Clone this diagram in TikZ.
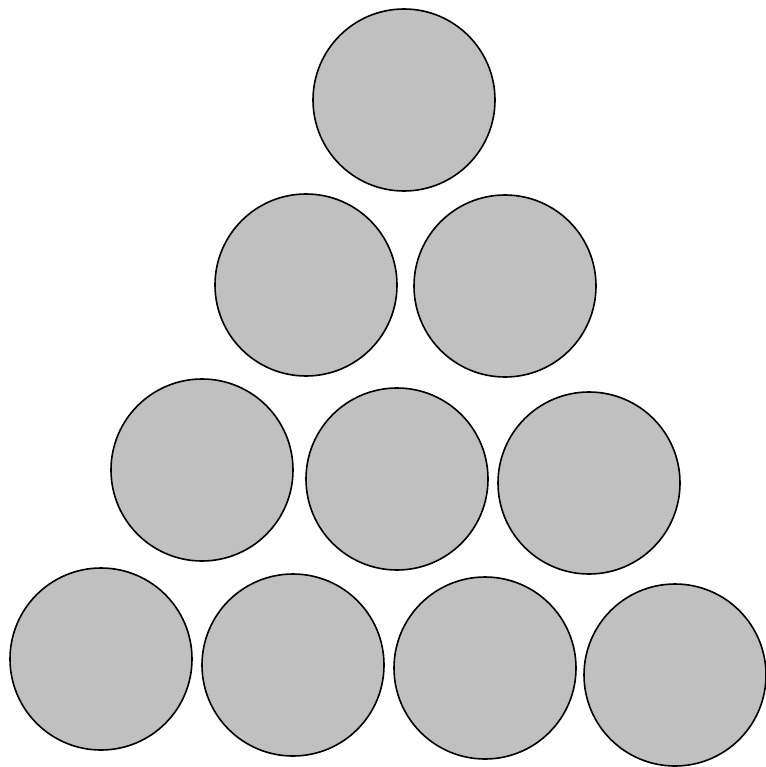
\documentclass[tikz,border=0pt]{standalone}
\usepackage{tikz}
\definecolor{colorball}{HTML}{C0C0C0}

\begin{document}
\begin{tikzpicture}[
    x=1pt, y=-1pt,
    % plain grey disc with a thin black rim
    ball/.style={
        circle,
        draw=black,
        fill=colorball,
        minimum size=182pt,
        inner sep=0pt,
        line width=1.6pt
    }
]
\useasboundingbox (0,0) rectangle (765,767);

% Row 1
\node[ball] (top) at (404,100) {};

% Row 2
\node[ball] (midleft) at (306,285) {};
\node[ball] (midright) at (505,286) {};

% Row 3
\node[ball] (lowleft) at (202,470) {};
\node[ball] (lowcenter) at (397,479) {};
\node[ball] (lowright) at (589,483) {};

% Row 4
\node[ball] (baseA) at (101,659) {};
\node[ball] (baseB) at (293,665) {};
\node[ball] (baseC) at (485,668) {};
\node[ball] (baseD) at (675,675) {};

\end{tikzpicture}
\end{document}
